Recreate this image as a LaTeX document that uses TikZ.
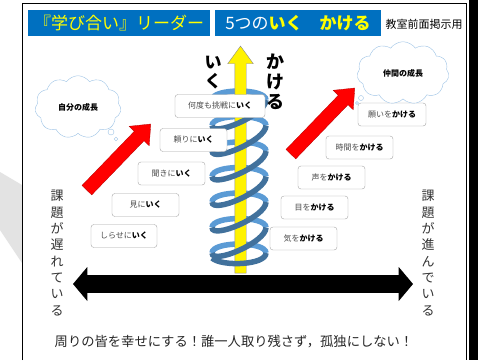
\documentclass[tikz,border=0pt]{standalone}
\usepackage{fontspec}
\setmainfont{Noto Sans CJK JP}
\usetikzlibrary{shapes.symbols,shapes.arrows}
\definecolor{titleblue}{HTML}{0070C0}
\definecolor{ribbonlight}{HTML}{5B9BD5}
\definecolor{ribbondark}{HTML}{41719C}
\definecolor{cloudline}{HTML}{9DC3E6}
\definecolor{boxline}{HTML}{A6A6A6}
\definecolor{titleyellow}{HTML}{FFFF00}
\definecolor{sidegray}{HTML}{E3E3E3}
\begin{document}
\begin{tikzpicture}[x=1pt,y=-1pt,
  titlebox/.style={fill=titleblue, inner sep=0pt, minimum height=26pt, font=\fontsize{17}{19}\selectfont},
  itembox/.style={draw=boxline, fill=white, rounded corners=3pt, inner sep=0pt, minimum height=23pt, font=\fontsize{8}{9}\selectfont},
  thought/.style={cloud, cloud puffs=11, cloud puff arc=110, draw=cloudline, fill=white, inner sep=0pt, font=\bfseries\fontsize{8}{9}\selectfont},
  bubble/.style={draw=cloudline, fill=white},
  backribbon/.style={draw=ribbonlight, line width=5.5pt},
  frontribbon/.style={draw=ribbondark, line width=5.5pt},
  emptyarrow/.style={text height=0pt, text depth=0pt, text width=0pt, inner xsep=0pt},
  redarrow/.style={single arrow, emptyarrow, inner ysep=6.5pt, fill=red, draw=red!70!black, line width=0.3pt, minimum width=28pt, single arrow tip angle=80},
  vtext/.style={align=center, inner sep=0pt, text=black!80, font=\fontsize{13}{16.3}\selectfont},
  bigv/.style={align=center, inner sep=0pt, font=\bfseries\fontsize{17}{19}\selectfont}
]
\useasboundingbox (0,0) rectangle (487,360);
\fill[white] (0,0) rectangle (487,360);
% side decoration
\fill[sidegray] (0,172) -- (22,185) -- (22,263) -- (0,230) -- cycle;
% frame
\draw[black, line width=0.8pt] (22,360) -- (22,3) -- (466,3) -- (466,360);
\fill[black] (469,0) rectangle (478,360);

% titles
\node[titlebox, minimum width=182pt] (t1) at (119,23) {\color{titleyellow}『学び合い』リーダー};
\node[titlebox, minimum width=166pt] (t2) at (298,23) {{\color{white}5つの}{\bfseries\color{titleyellow}いく　かける}};
\node[inner sep=0pt, font=\fontsize{11}{12}\selectfont] (t3) at (424,24) {教室前面掲示用};

% spiral back parts
\foreach \k in {0,...,6}{
  \pgfmathsetmacro{\yc}{100+25.5*\k}
  \draw[backribbon] (212,\yc) .. controls (212,\yc-12) and (266,\yc-12) .. (266,\yc);
}
% yellow arrow
\node[single arrow, emptyarrow, inner ysep=5.5pt, rotate=90, fill=yellow, draw=black!45, line width=0.4pt,
  minimum height=227pt, minimum width=22pt, single arrow tip angle=72] (up) at (240.5,163.5) {};
% spiral front parts
\foreach \k in {0,...,5}{
  \pgfmathsetmacro{\yc}{100+25.5*\k}
  \pgfmathsetmacro{\yn}{\yc+25.5}
  \draw[frontribbon] (266,\yc) .. controls (266,\yc+15) and (212,\yn+12) .. (212,\yn);
}
\draw[frontribbon] (266,253) .. controls (266,265) and (222,267) .. (212,258);

% big vertical labels
\node[bigv] (iku) at (213,73) {い\\く};
\node[bigv, font=\bfseries\fontsize{18}{20}\selectfont] (kakeru) at (275,82) {か\\け\\る};

% left boxes
\node[itembox, minimum width=90pt] (b1) at (220,106) {{\color{black!70}何度も挑戦に}\textbf{いく}};
\node[itembox, minimum width=67pt] (b2) at (193.5,140) {{\color{black!70}頼りに}\textbf{いく}};
\node[itembox, minimum width=67pt] (b3) at (171.5,173.5) {{\color{black!70}聞きに}\textbf{いく}};
\node[itembox, minimum width=67pt] (b4) at (145.5,205) {{\color{black!70}見に}\textbf{いく}};
\node[itembox, minimum width=66pt] (b5) at (124,236) {{\color{black!70}しらせに}\textbf{いく}};

% right boxes
\node[itembox, minimum width=68pt] (c1) at (392,114.5) {{\color{black!70}願いを}\textbf{かける}};
\node[itembox, minimum width=67pt] (c2) at (359.5,147.5) {{\color{black!70}時間を}\textbf{かける}};
\node[itembox, minimum width=67pt] (c3) at (331.5,177.5) {{\color{black!70}声を}\textbf{かける}};
\node[itembox, minimum width=67pt] (c4) at (314.5,207.5) {{\color{black!70}目を}\textbf{かける}};
\node[itembox, minimum width=67pt] (c5) at (303.5,238.5) {{\color{black!70}気を}\textbf{かける}};

% clouds
\node[thought, minimum width=86pt, minimum height=48pt] (self) at (78,107) {自分の成長};
\draw[bubble] (111,132) circle[radius=3pt];
\draw[bubble] (116,139) circle[radius=1.8pt];
\node[thought, minimum width=92pt, minimum height=46pt] (peer) at (403,73) {仲間の成長};
\draw[bubble] (361,98) circle[radius=2.5pt];
\draw[bubble] (357,103) circle[radius=1.5pt];

% red arrows
\node[redarrow, minimum height=92pt, rotate=46] (ra1) at (116,160) {};
\node[redarrow, minimum height=92pt, rotate=46] (ra2) at (320,124) {};

% black double arrow
\node[double arrow, emptyarrow, inner ysep=7.5pt, fill=black, minimum height=340pt, minimum width=34pt,
  double arrow tip angle=100] (axis) at (243,284) {};

% side vertical texts
\node[vtext] (slow) at (57,253) {課\\題\\が\\遅\\れ\\て\\い\\る};
\node[vtext] (fast) at (428,253) {課\\題\\が\\進\\ん\\で\\い\\る};

% bottom slogan
\node[inner sep=0pt, text=black!85, font=\fontsize{13.3}{15}\selectfont] (slogan) at (234,342) {周りの皆を幸せにする！誰一人取り残さず，孤独にしない！};
\end{tikzpicture}
\end{document}
